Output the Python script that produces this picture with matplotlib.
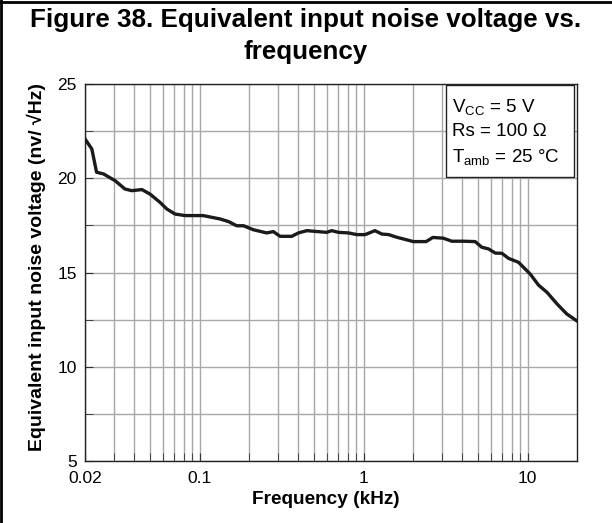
import matplotlib
matplotlib.use('Agg')
import matplotlib.pyplot as plt
from matplotlib.ticker import FixedLocator, NullFormatter
from matplotlib.patches import Rectangle
from matplotlib.lines import Line2D

plt.rcParams['font.family'] = 'Liberation Sans'
plt.rcParams['mathtext.fontset'] = 'custom'
plt.rcParams['mathtext.rm'] = 'Liberation Sans'
plt.rcParams['mathtext.it'] = 'Liberation Sans'

# noise curve, frequency in kHz vs nV/sqrt(Hz)
freq = [0.02, 0.022, 0.0235, 0.0259, 0.0305, 0.035, 0.0386, 0.0444, 0.0498,
        0.0573, 0.063, 0.0708, 0.0815, 0.105, 0.133, 0.150, 0.168, 0.185,
        0.212, 0.256, 0.281, 0.309, 0.364, 0.400, 0.450, 0.594, 0.638, 0.702,
        0.807, 0.908, 1.02, 1.17, 1.29, 1.42, 1.59, 2.01, 2.40, 2.64, 3.06,
        3.44, 4.06, 4.78, 5.25, 5.77, 6.34, 6.96, 7.64, 8.79, 10.35, 11.64,
        13.1, 15.1, 17.3, 19.8]
noise = [22.08, 21.55, 20.32, 20.23, 19.87, 19.43, 19.34, 19.40, 19.16,
         18.72, 18.37, 18.10, 18.02, 18.02, 17.84, 17.70, 17.48, 17.48,
         17.27, 17.10, 17.17, 16.92, 16.92, 17.10, 17.22, 17.13, 17.22, 17.13,
         17.10, 17.01, 17.01, 17.22, 17.04, 17.01, 16.87, 16.64, 16.64, 16.86,
         16.82, 16.66, 16.66, 16.64, 16.34, 16.25, 16.03, 16.02, 15.75, 15.54,
         14.92, 14.33, 13.95, 13.33, 12.80, 12.45]

xticks = [0.02, 0.1, 1, 10]
xticklabels = ['0.02', '0.1', '1', '10']
xminor = [0.03, 0.04, 0.05, 0.06, 0.07, 0.08, 0.09,
          0.2, 0.3, 0.4, 0.5, 0.6, 0.7, 0.8, 0.9,
          2, 3, 4, 5, 6, 7, 8, 9]
yticks = [5, 10, 15, 20, 25]
yminor = [7.5, 12.5, 17.5, 22.5]

title_lines = ['Figure 38. Equivalent input noise voltage vs.', 'frequency']
conditions = ['V$_{\\mathrm{CC}}$ = 5 V',
              'Rs = 100 \u03a9',
              'T$_{\\mathrm{amb}}$ = 25 \u00b0C']

fig = plt.figure(figsize=(6.12, 5.23), dpi=100)
ax = fig.add_axes([0.139, 0.1185, 0.804, 0.7209])

ax.plot(freq, noise, color='#1a1a1a', lw=2.4, solid_joinstyle='round', zorder=3)

ax.set_xscale('log')
ax.set_xlim(0.02, 20)
ax.set_ylim(5, 25)
ax.xaxis.set_major_locator(FixedLocator(xticks))
ax.set_xticklabels(xticklabels)
ax.xaxis.set_minor_locator(FixedLocator(xminor))
ax.xaxis.set_minor_formatter(NullFormatter())
ax.yaxis.set_major_locator(FixedLocator(yticks))
ax.yaxis.set_minor_locator(FixedLocator(yminor))

ax.grid(True, which='both', color='#a8a8a8', lw=1.0)
ax.set_axisbelow(True)
ax.tick_params(which='both', direction='in', labelsize=12.5, color='#333333',
               top=False, right=False)
ax.tick_params(which='both', length=6)
ax.tick_params(axis='x', which='major', pad=7)
ax.tick_params(axis='y', which='major', pad=6)
for s in ax.spines.values():
    s.set_linewidth(1.0)
    s.set_color('#222222')

ax.set_xlabel('Frequency (kHz)', fontsize=13.7, fontweight='bold', labelpad=4, x=0.49)
ax.set_ylabel('Equivalent input noise voltage (nv/ \u221aHz)', fontsize=14,
              fontweight='bold', labelpad=8, y=0.515)

# test conditions box in the upper right corner
ax.add_patch(Rectangle((0.733, 0.754), 0.261, 0.2426, transform=ax.transAxes,
                       fc='white', ec='#222222', lw=1.0, zorder=5))
for txt, yb in zip(conditions, [0.9265, 0.862, 0.794]):
    ax.text(0.745, yb, txt, transform=ax.transAxes, ha='left', va='baseline',
            fontsize=13.5, zorder=6)

for txt, yb in zip(title_lines, [0.948, 0.887]):
    fig.text(0.5, yb, txt, ha='center', va='baseline', fontsize=18.7,
             fontweight='bold')

# frame lines along the top and left edges
fig.add_artist(Line2D([0, 1], [0.996, 0.996], transform=fig.transFigure,
                      color='black', lw=2))
fig.add_artist(Line2D([0.002, 0.002], [0, 1], transform=fig.transFigure,
                      color='black', lw=2))

fig.savefig('out.png', dpi=100)
